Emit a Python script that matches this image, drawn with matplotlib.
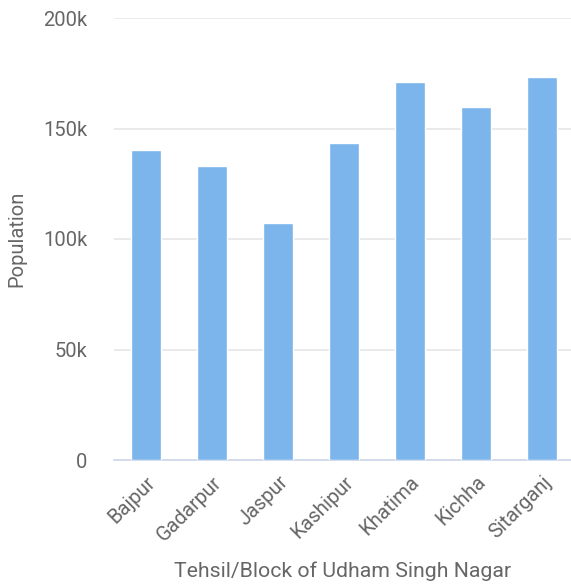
import matplotlib.pyplot as plt
from matplotlib.ticker import FuncFormatter

plt.rcParams['font.family'] = ['Roboto', 'DejaVu Sans']

# Population by tehsil/block
blocks = ["Bajpur", "Gadarpur", "Jaspur", "Kashipur", "Khatima", "Kichha", "Sitarganj"]
population = [140300, 133000, 107200, 143400, 170900, 159600, 173300]

fig = plt.figure(figsize=(5.71, 5.88), dpi=100)
ax = fig.add_axes([114 / 571, 1 - 460 / 588, 1 - 114 / 571, 442 / 588])

x = range(len(blocks))
ax.bar(x, population, width=0.455, color="#7cb5ec", edgecolor="white", linewidth=1, zorder=3)

ax.set_ylim(0, 200000)
ax.set_xlim(-0.485, 6.44)
ax.set_yticks([0, 50000, 100000, 150000, 200000])
ax.yaxis.set_major_formatter(FuncFormatter(lambda v, p: "0" if v == 0 else f"{int(v / 1000)}k"))
ax.grid(axis="y", color="#e6e6e6", linewidth=1.2, zorder=0)

for side in ["top", "right", "left"]:
    ax.spines[side].set_visible(False)
ax.spines["bottom"].set_color("#ccd6eb")
ax.spines["bottom"].set_linewidth(1.2)

ax.set_xticks(list(x))
ax.set_xticklabels(blocks, rotation=45, ha="right", rotation_mode="anchor")
ax.tick_params(axis="x", length=0, pad=9, labelsize=14.5, labelcolor="#666666")
ax.tick_params(axis="y", length=0, pad=19, labelsize=14.5, labelcolor="#666666")

ax.set_ylabel("Population", fontsize=14.5, color="#666666", labelpad=12)
ax.set_xlabel("Tehsil/Block of Udham Singh Nagar", fontsize=15.3, color="#666666", labelpad=12)

fig.savefig("out.png", dpi=100)
